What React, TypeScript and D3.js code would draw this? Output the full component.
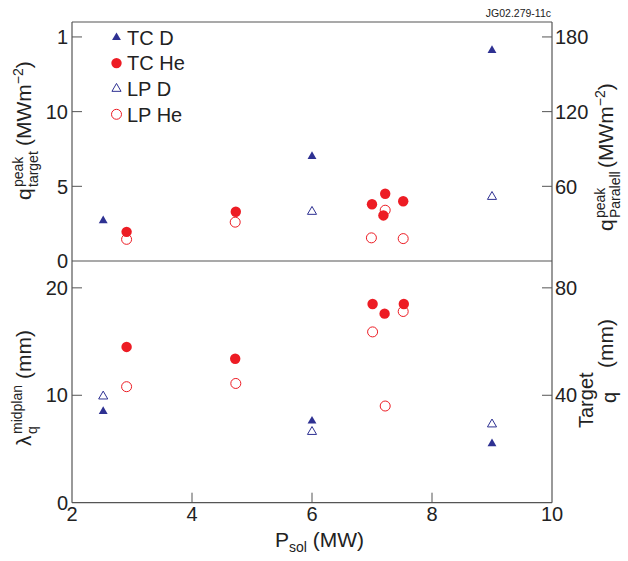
import React from "react";
import * as d3 from "d3";

// ---- data ----
const tcDX = [2.52, 6.0, 9.0];
const tcDTop = [2.7, 7.0, 14.1];
const tcDBot = [8.5, 7.6, 5.5];

const lpDTopX = [6.0, 9.0];
const lpDTop = [3.3, 4.3];
const lpDBotX = [2.52, 6.0, 9.0];
const lpDBot = [9.9, 6.6, 7.3];

const tcHeTopX = [2.91, 4.73, 7.0, 7.22, 7.19, 7.52];
const tcHeTop = [1.95, 3.3, 3.8, 4.5, 3.05, 4.0];
const tcHeBotX = [2.91, 4.72, 7.01, 7.21, 7.53];
const tcHeBot = [14.5, 13.4, 18.5, 17.6, 18.5];

const lpHeTopX = [2.91, 4.72, 6.99, 7.22, 7.52];
const lpHeTop = [1.45, 2.6, 1.55, 3.4, 1.5];
const lpHeBotX = [2.91, 4.73, 7.01, 7.22, 7.52];
const lpHeBot = [10.8, 11.1, 15.9, 9.0, 17.8];

const xTicks = [2, 4, 6, 8, 10];
const topLeftTicks = [0, 5, 10, 15];
const topLeftTickLabels = ["0", "5", "10", "1"];
const topRightTicks = [60, 120, 180];
const botLeftTicks = [0, 10, 20];
const botRightTicks = [40, 80];
const legendLabels = ["TC D", "TC He", "LP D", "LP He"];

const BLUE = "#2e3192";
const RED = "#ed1c24";
const AX = "#555";
const FONT = "'Liberation Sans', Arial, Helvetica, sans-serif";

export default function App() {
  const L = 72, R = 552, T = 22, M = 261, B = 502.7;
  const x = d3.scaleLinear().domain([2, 10]).range([L, R]);
  const yTop = d3.scaleLinear().domain([0, 16]).range([M, T]);
  const yTopR = d3.scaleLinear().domain([0, 192]).range([M, T]);
  const yBot = d3.scaleLinear().domain([0, 22.5]).range([B, M]);
  const yBotR = d3.scaleLinear().domain([0, 90]).range([B, M]);

  const triFilled = d3.symbol().type(d3.symbolTriangle).size(34)()!;
  const triOpen = d3.symbol().type(d3.symbolTriangle).size(36)()!;

  const mark = (kind: string, cx: number, cy: number, key: string) => {
    if (kind === "tcD")
      return <path key={key} d={triFilled} transform={`translate(${cx},${cy})`} fill={BLUE} />;
    if (kind === "lpD")
      return <path key={key} d={triOpen} transform={`translate(${cx},${cy})`} fill="none" stroke={BLUE} strokeWidth={1} />;
    if (kind === "tcHe")
      return <circle key={key} cx={cx} cy={cy} r={5.2} fill={RED} />;
    return <circle key={key} cx={cx} cy={cy} r={5} fill="none" stroke={RED} strokeWidth={1} />;
  };

  const series = (kind: string, xs: number[], ys: number[], ys_: d3.ScaleLinear<number, number>, p: string) =>
    xs.map((v, i) => mark(kind, x(v), ys_(ys[i]), `${p}${i}`));

  const tickFs = 20;

  return (
    <svg width={628} height={561} style={{ position: "absolute", left: 0, top: 0, background: "#fff" }} fontFamily={FONT}>
      <rect width={628} height={561} fill="#fff" />
      {/* frame */}
      <g stroke={AX} strokeWidth={1.2} fill="none">
        <line x1={L} y1={T} x2={R} y2={T} />
        <line x1={L} y1={T} x2={L} y2={B} />
        <line x1={R} y1={T} x2={R} y2={B} />
        <line x1={L} y1={B} x2={R} y2={B} />
        <line x1={L} y1={M} x2={R} y2={M} />
      </g>
      {/* ticks */}
      <g stroke={AX} strokeWidth={1}>
        {xTicks.filter((t) => t > 2 && t < 10).map((t) => (
          <line key={t} x1={x(t)} x2={x(t)} y1={B} y2={B - 10} />
        ))}
        {topLeftTicks.filter((t) => t > 0).map((t) => (
          <line key={"tl" + t} x1={L} x2={L + 10} y1={yTop(t)} y2={yTop(t)} />
        ))}
        {topRightTicks.map((t) => (
          <line key={"tr" + t} x1={R} x2={R - 10} y1={yTopR(t)} y2={yTopR(t)} />
        ))}
        {botLeftTicks.filter((t) => t > 0).map((t) => (
          <line key={"bl" + t} x1={L} x2={L + 10} y1={yBot(t)} y2={yBot(t)} />
        ))}
        {botRightTicks.map((t) => (
          <line key={"br" + t} x1={R} x2={R - 10} y1={yBotR(t)} y2={yBotR(t)} />
        ))}
      </g>
      {/* tick labels */}
      <g fill="#222" fontSize={tickFs}>
        {xTicks.map((t) => (
          <text key={"xl" + t} x={x(t)} y={521} textAnchor="middle">{t}</text>
        ))}
        {topLeftTicks.map((t, i) => (
          <text key={"tll" + t} x={68} y={yTop(t)} dy="0.36em" textAnchor="end">{topLeftTickLabels[i]}</text>
        ))}
        {topRightTicks.map((t) => (
          <text key={"trl" + t} x={555} y={yTopR(t)} dy="0.36em" textAnchor="start">{t}</text>
        ))}
        {botLeftTicks.map((t) => (
          <text key={"bll" + t} x={68} y={yBot(t)} dy="0.36em" textAnchor="end">{t}</text>
        ))}
        {botRightTicks.map((t) => (
          <text key={"brl" + t} x={555} y={yBotR(t)} dy="0.36em" textAnchor="start">{t}</text>
        ))}
      </g>
      {/* data */}
      {series("tcD", tcDX, tcDTop, yTop, "a")}
      {series("lpD", lpDTopX, lpDTop, yTop, "b")}
      {series("lpHe", lpHeTopX, lpHeTop, yTop, "c")}
      {series("tcHe", tcHeTopX, tcHeTop, yTop, "d")}
      {series("tcD", tcDX, tcDBot, yBot, "e")}
      {series("lpD", lpDBotX, lpDBot, yBot, "f")}
      {series("lpHe", lpHeBotX, lpHeBot, yBot, "g")}
      {series("tcHe", tcHeBotX, tcHeBot, yBot, "h")}
      {/* legend */}
      {legendLabels.map((lab, i) => {
        const ly = 37.5 + i * 25.6;
        const kinds = ["tcD", "tcHe", "lpD", "lpHe"];
        return (
          <g key={"lg" + i}>
            {mark(kinds[i], 116.5, ly, "lm" + i)}
            <text x={127} y={ly} dy="0.36em" fontSize={20} fill="#222">{lab}</text>
          </g>
        );
      })}
      {/* id */}
      <text x={551} y={17} fontSize={10.5} textAnchor="end" fill="#222">JG02.279-11c</text>
      {/* x label */}
      <text x={275} y={547} fontSize={21} fill="#222">
        P<tspan fontSize={14} dy={5}>sol</tspan>
        <tspan dy={-5}> (MW)</tspan>
      </text>
      {/* left top label */}
      <g transform="translate(31,200) rotate(-90)">
        <text x={0} y={0} fontSize={21} fill="#222">q</text>
        <text x={13} y={-8} fontSize={14} fill="#222">peak</text>
        <text x={13} y={7} fontSize={14} fill="#222">target</text>
        <text x={54} y={0} fontSize={21} fill="#222">
          (MWm<tspan fontSize={14} dy={-8}>−2</tspan><tspan dy={8}>)</tspan>
        </text>
      </g>
      {/* left bottom label */}
      <g transform="translate(31,446) rotate(-90)">
        <text x={0} y={0} fontSize={21} fill="#222">λ</text>
        <text x={12} y={-9} fontSize={14} fill="#222">midplan</text>
        <text x={12} y={6} fontSize={14} fill="#222">q</text>
        <text x={67} y={0} fontSize={21} fill="#222">(mm)</text>
      </g>
      {/* right top label */}
      <g transform="translate(613,231) rotate(-90)">
        <text x={0} y={0} fontSize={21} fill="#222">q</text>
        <text x={13} y={-8} fontSize={14} fill="#222">peak</text>
        <text x={13} y={7} fontSize={14} fill="#222">Paralell</text>
        <text x={63} y={0} fontSize={21} fill="#222">
          (MWm<tspan fontSize={14} dy={-8}>−2</tspan><tspan dy={8}>)</tspan>
        </text>
      </g>
      {/* right bottom label */}
      <g transform="translate(593,428) rotate(-90)">
        <text x={0} y={0} fontSize={20} fill="#222">Target</text>
        <text x={25} y={23} fontSize={20} fill="#222">q</text>
        <text x={60} y={20} fontSize={21} fill="#222">(mm)</text>
      </g>
    </svg>
  );
}
